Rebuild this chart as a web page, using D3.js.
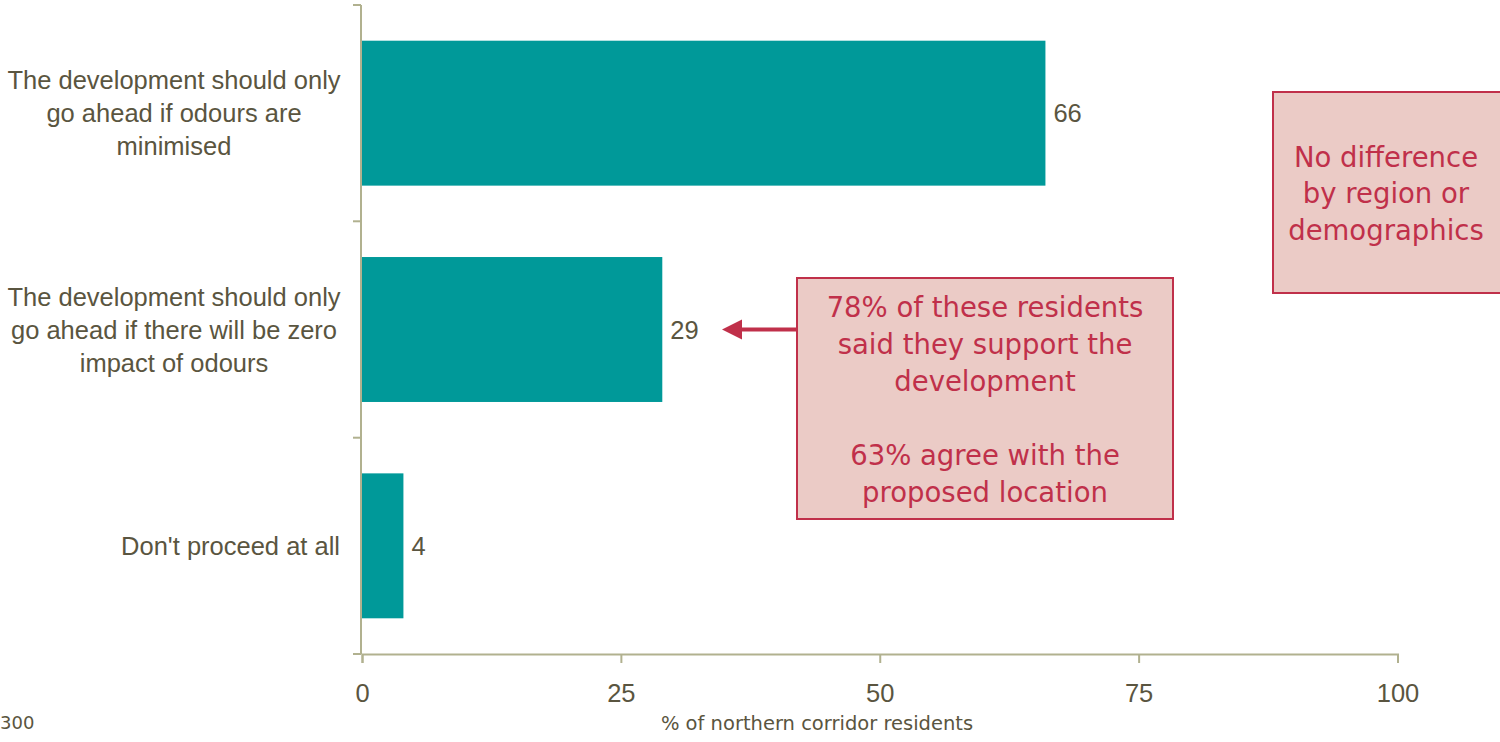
<!DOCTYPE html>
<html><head><meta charset="utf-8">
<script src="https://cdn.jsdelivr.net/npm/d3@7"></script>
<style>body{margin:0;background:#fff}svg{display:block}</style>
</head><body>
<script>
const categories = [
  ["The development should only","go ahead if odours are","minimised"],
  ["The development should only","go ahead if there will be zero","impact of odours"],
  ["Don't proceed at all"]
];
const values = [66, 29, 4];
const xTicks = [0, 25, 50, 75, 100];
const axisTitle = "% of northern corridor residents";
const baseNote = "300";
const note1 = ["78% of these residents","said they support the","development","","63% agree with the","proposed location"];
const note2 = ["No difference","by region or","demographics"];

const W = 1500, H = 742;
const svg = d3.select("body").append("svg").attr("width", W).attr("height", H);
const axisCol = "#b1b18f", textCol = "#5a5540", barCol = "#009999";
const noteCol = "#c0304a", noteFill = "#ebcbc6";
const labFont = "Liberation Sans, Arial, sans-serif", labSize = 25.5;

const x = d3.scaleLinear().domain([0, 100]).range([362, 1397.5]);
const y = d3.scaleBand().domain(d3.range(values.length)).range([5, 654]).paddingInner(0.33).paddingOuter(0.165);

// bars
svg.selectAll("rect.bar").data(values).join("rect").attr("class","bar")
  .attr("x", x(0)).attr("y", (d,i)=>y(i)).attr("width", d=>x(d)-x(0)).attr("height", y.bandwidth())
  .attr("fill", barCol);

// value labels
svg.selectAll("text.val").data(values).join("text").attr("class","val")
  .attr("x", d=>x(d)+8).attr("y", (d,i)=>y(i)+y.bandwidth()/2).attr("dy","0.36em")
  .attr("font-family",labFont).attr("font-size",labSize).attr("fill",textCol)
  .text(d=>d);

// y axis line & ticks
const yTickPos = [5, 221.3, 437.7, 654];
svg.append("line").attr("x1",361).attr("x2",361).attr("y1",5).attr("y2",654).attr("stroke",axisCol).attr("stroke-width",2);
yTickPos.forEach(p=>svg.append("line").attr("x1",353).attr("x2",361).attr("y1",p).attr("y2",p).attr("stroke",axisCol).attr("stroke-width",2));

// x axis
const xAxis = d3.axisBottom(x).tickValues(xTicks).tickSize(9).tickPadding(21).tickFormat(d3.format("d"));
const gx = svg.append("g").attr("transform","translate(0,654)").call(xAxis);
gx.select(".domain").attr("stroke",axisCol).attr("stroke-width",2);
gx.selectAll(".tick line").attr("stroke",axisCol).attr("stroke-width",2);
gx.selectAll(".tick text").attr("font-family",labFont).attr("font-size",labSize).attr("fill",textCol);

// category labels
categories.forEach((lines,i)=>{
  const cy = y(i)+y.bandwidth()/2;
  const single = lines.length === 1;
  const t = svg.append("text").attr("text-anchor", single ? "end" : "middle")
    .attr("font-family",labFont).attr("font-size",labSize).attr("fill",textCol);
  lines.forEach((l,j)=>{
    t.append("tspan").attr("x", single ? 340 : 174).attr("y", cy + (j-(lines.length-1)/2)*33).attr("dy","0.36em").text(l);
  });
});

// axis title
svg.append("text").attr("x",817).attr("y",723).attr("dy","0.36em").attr("text-anchor","middle")
  .attr("font-family","DejaVu Sans, sans-serif").attr("font-size",19.5).attr("fill",textCol).text(axisTitle);
svg.append("text").attr("x",0).attr("y",723).attr("dy","0.36em").attr("text-anchor","start")
  .attr("font-family","DejaVu Sans, sans-serif").attr("font-size",18).attr("fill",textCol).text(baseNote);

// arrow
const ay = y(1)+y.bandwidth()/2;
svg.append("line").attr("x1",797).attr("x2",738).attr("y1",ay).attr("y2",ay).attr("stroke",noteCol).attr("stroke-width",4);
svg.append("path").attr("d",`M722,${ay} L742,${ay-10} L742,${ay+10} Z`).attr("fill",noteCol);

// note boxes
function noteBox(x0,y0,w,h,lines,cx,firstY,lh){
  svg.append("rect").attr("x",x0).attr("y",y0).attr("width",w).attr("height",h)
    .attr("fill",noteFill).attr("stroke",noteCol).attr("stroke-width",2);
  const t = svg.append("text").attr("text-anchor","middle")
    .attr("font-family","DejaVu Sans, sans-serif").attr("font-size",27.5).attr("fill",noteCol);
  lines.forEach((l,j)=>{
    t.append("tspan").attr("x",cx).attr("y",firstY+j*lh).attr("dy","0.36em").text(l);
  });
}
noteBox(797,278,376,241,note1,985,307,37);
noteBox(1273,92,232,201,note2,1386,157,36.5);
</script>
</body></html>
